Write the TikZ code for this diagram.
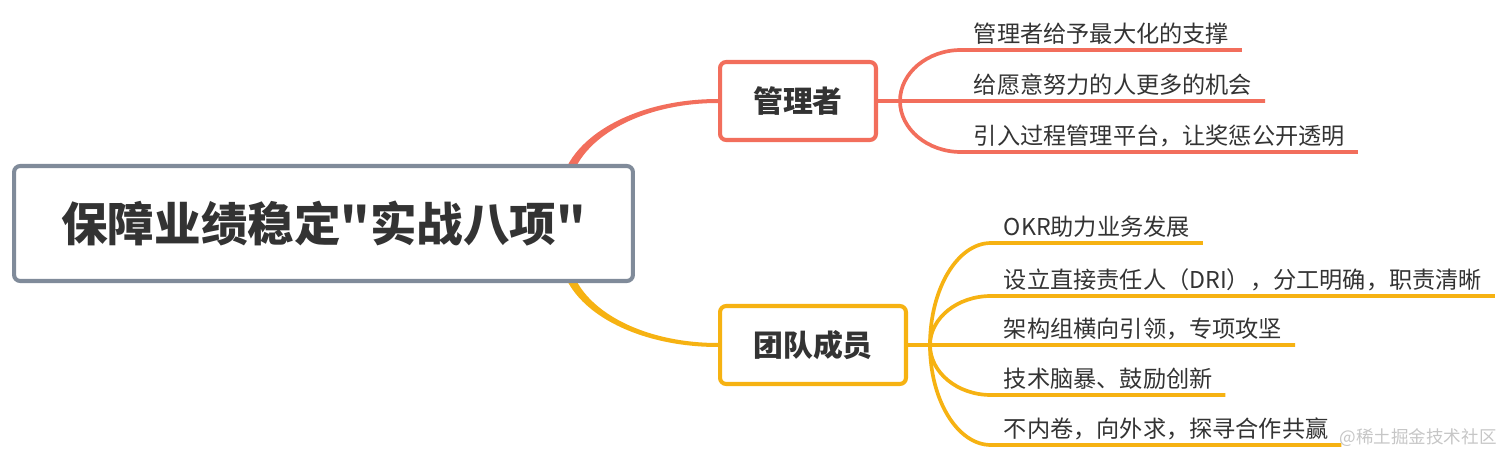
\documentclass[tikz,border=0pt]{standalone}
\usepackage{fontspec}
\setmainfont{Noto Sans CJK SC}[Ligatures=TeXOff]
\usetikzlibrary{backgrounds,calc}
\definecolor{rootgray}{RGB}{128,139,154}
\definecolor{mgrred}{RGB}{242,110,92}
\definecolor{teamorange}{RGB}{246,178,18}
\definecolor{txt}{RGB}{51,51,51}
\begin{document}
\begin{tikzpicture}[x=0.02cm,y=-0.02cm,
  rootbox/.style={draw=rootgray,line width=2.3pt,rounded corners=3.5pt,fill=white,text=txt,
    font=\bfseries\fontsize{26.5}{30}\selectfont,minimum width=12.38cm,minimum height=2.3cm},
  topicbox/.style={draw=#1,line width=2.3pt,rounded corners=3.5pt,fill=white,text=txt,
    font=\bfseries\fontsize{17}{20}\selectfont,minimum height=1.56cm},
  leaf/.style={anchor=south west,inner xsep=0.25cm,inner ysep=0.1cm,text=txt,
    font=\fontsize{13.2}{16}\selectfont},
  subbranch/.style={draw=#1,line width=2.1pt}]
\useasboundingbox (0,0) rectangle (1512,466);

\node[rootbox] (root) at (323.5,223.5) {保障业绩稳定"实战八项"};
\node[topicbox=mgrred,minimum width=3.12cm] (mgr) at (798,101) {管理者};
\node[topicbox=teamorange,minimum width=3.72cm] (team) at (813,345) {团队成员};

\coordinate (mgrfork) at (900,101);
\coordinate (teamfork) at (930,345);

\node[leaf] (m1) at (961,50) {管理者给予最大化的支撑};
\node[leaf] (m2) at (961,101) {给愿意努力的人更多的机会};
\node[leaf] (m3) at (961,152) {引入过程管理平台，让奖惩公开透明};

\node[leaf] (t1) at (991,243) {OKR助力业务发展};
\node[leaf] (t2) at (991,296) {设立直接责任人（DRI），分工明确，职责清晰};
\node[leaf] (t3) at (991,345) {架构组横向引领，专项攻坚};
\node[leaf] (t4) at (991,395) {技术脑暴、鼓励创新};
\node[leaf] (t5) at (991,445) {不内卷，向外求，探寻合作共赢};

\node[text=gray!45,font=\fontsize{10}{12}\selectfont] (mark) at (1418,438) {@稀土掘金技术社区};

\begin{scope}[on background layer]
\fill[mgrred] ($(mgr.west)+(0,-2)$) .. controls ($(mgr.west)+(-88,-2)$) and (560,142) .. (560,195)
  -- (569,195) .. controls (569,144) and ($(mgr.west)+(-83,2)$) .. ($(mgr.west)+(0,2)$) -- cycle;
\fill[teamorange] ($(team.west)+(0,2)$) .. controls ($(team.west)+(-88,2)$) and (560,305) .. (560,252)
  -- (569,252) .. controls (569,303) and ($(team.west)+(-83,-2)$) .. ($(team.west)+(0,-2)$) -- cycle;
\draw[subbranch=mgrred] (mgr.east) -- (mgrfork);
\draw[subbranch=teamorange] (team.east) -- (teamfork);
\foreach \leafname in {m1,m2,m3}
  \draw[subbranch=mgrred] (mgrfork) .. controls ($(mgrfork)!0.55!(mgrfork |- \leafname.south west)$)
    and ($(\leafname.south west)!0.55!(mgrfork |- \leafname.south west)$) .. (\leafname.south west)
    -- (\leafname.south east);
\foreach \leafname in {t1,t2,t3,t4,t5}
  \draw[subbranch=teamorange] (teamfork) .. controls ($(teamfork)!0.55!(teamfork |- \leafname.south west)$)
    and ($(\leafname.south west)!0.55!(teamfork |- \leafname.south west)$) .. (\leafname.south west)
    -- (\leafname.south east);
\end{scope}
\end{tikzpicture}
\end{document}
